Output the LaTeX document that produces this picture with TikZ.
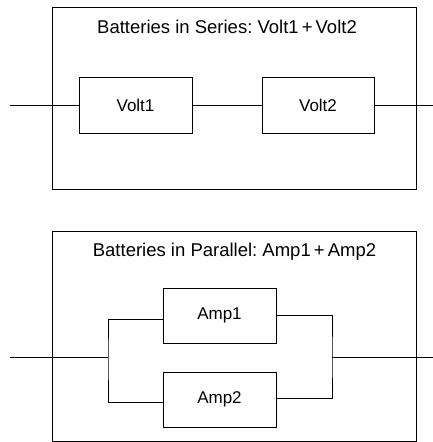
\documentclass[tikz,border=0pt]{standalone}
\usepackage{fontspec}
\setmainfont{Liberation Sans}
\frenchspacing
\definecolor{paper}{RGB}{254,254,254}
\begin{document}
\begin{tikzpicture}[x=1pt,y=1pt,
  wire/.style={draw=black,line width=0.8pt},
  outerbox/.style={draw=black,line width=0.8pt,inner sep=0pt},
  cellbox/.style={draw=black,line width=0.8pt,inner sep=0pt,minimum height=56pt,
    font=\fontsize{17}{20}\selectfont},
  heading/.style={inner sep=0pt,anchor=base,font=\fontsize{18.5}{22}\selectfont}]
\useasboundingbox (0,0) rectangle (433,442);
\draw[paper] (0,0) grid[step=50] (433,442);
% series
\node[outerbox,minimum width=364pt,minimum height=182pt] (f1) at (234,344) {};
\node[heading] (t1) at (227,408.7) {Batteries in Series: Volt1\,+\,Volt2};
\node[cellbox,minimum width=113pt] (v1) at (135.5,337) {Volt1};
\node[cellbox,minimum width=112pt] (v2) at (318,337) {Volt2};
\coordinate (inS) at (10,337);
\coordinate (outS) at (433,337);
\draw[wire] (inS) -- (v1.west);
\draw[wire] (v1.east) -- (v2.west);
\draw[wire] (v2.east) -- (outS);
% parallel
\node[outerbox,minimum width=364pt,minimum height=210pt] (f2) at (234,106) {};
\node[heading] (t2) at (234.5,185.5) {Batteries in Parallel: Amp1\,+\,Amp2};
\node[cellbox,minimum width=113pt,minimum height=55pt] (a1) at (219.5,126.5) {Amp1};
\node[cellbox,minimum width=113pt,minimum height=55pt] (a2) at (219.5,42.5) {Amp2};
\coordinate (inP) at (10,84.5);
\coordinate (jl) at (108,84.5);
\coordinate (jr) at (332,84.5);
\coordinate (outP) at (433,84.5);
\draw[wire] (inP) -- (jl);
\draw[wire] ([yshift=-3.5pt]a1.west) -| (jl) |- ([yshift=-2.5pt]a2.west);
\draw[wire] (a1.east) -| (jr) |- ([yshift=1pt]a2.east);
\draw[wire] (jr) -- (outP);
\end{tikzpicture}
\end{document}
